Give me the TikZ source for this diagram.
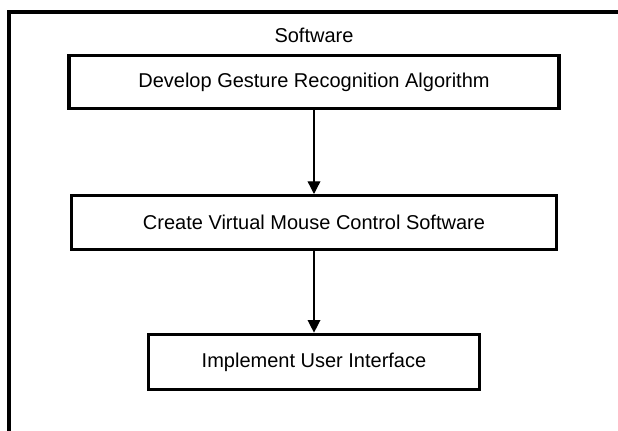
\documentclass[tikz,border=0pt]{standalone}
\usepackage{fontspec}
\setmainfont{Liberation Sans}
\usetikzlibrary{arrows.meta, positioning}

\begin{document}
\begin{tikzpicture}[
    x=0.75pt, y=-0.75pt,
    every node/.style={font=\fontsize{15}{18}\selectfont}, % Arial-like text
    box/.style={
        rectangle,
        draw=black,
        line width=2.5pt,
        fill=white,
        align=center,
        minimum height=40.5pt
    },
    stepbox/.style={
        box,
        minimum width=364pt
    },
    smallbox/.style={
        box,
        minimum width=248.5pt,
        minimum height=41.5pt
    },
    arrow/.style={
        line width=1pt,
        -{Triangle[length=9.5pt, width=9.5pt]},
        draw=black
    }
]
\useasboundingbox (0,0) rectangle (618,431);
\clip (0,0) rectangle (618,431);

% Software frame (runs off the right and bottom)
\draw[line width=2.4pt] (9,12) rectangle (720,520);
\node (software) at (314,35) {Software};

% Steps
\node[stepbox, minimum width=367.5pt, minimum height=39.5pt] (algorithm) at (314,82) {Develop Gesture Recognition Algorithm};
\node[stepbox, below=63pt of algorithm] (mouse) {Create Virtual Mouse Control Software};
\node[smallbox, below=61pt of mouse] (interface) {Implement User Interface};

% Flow arrows
\draw[arrow] (algorithm) -- (mouse);
\draw[arrow] (mouse) -- (interface);

\end{tikzpicture}
\end{document}
